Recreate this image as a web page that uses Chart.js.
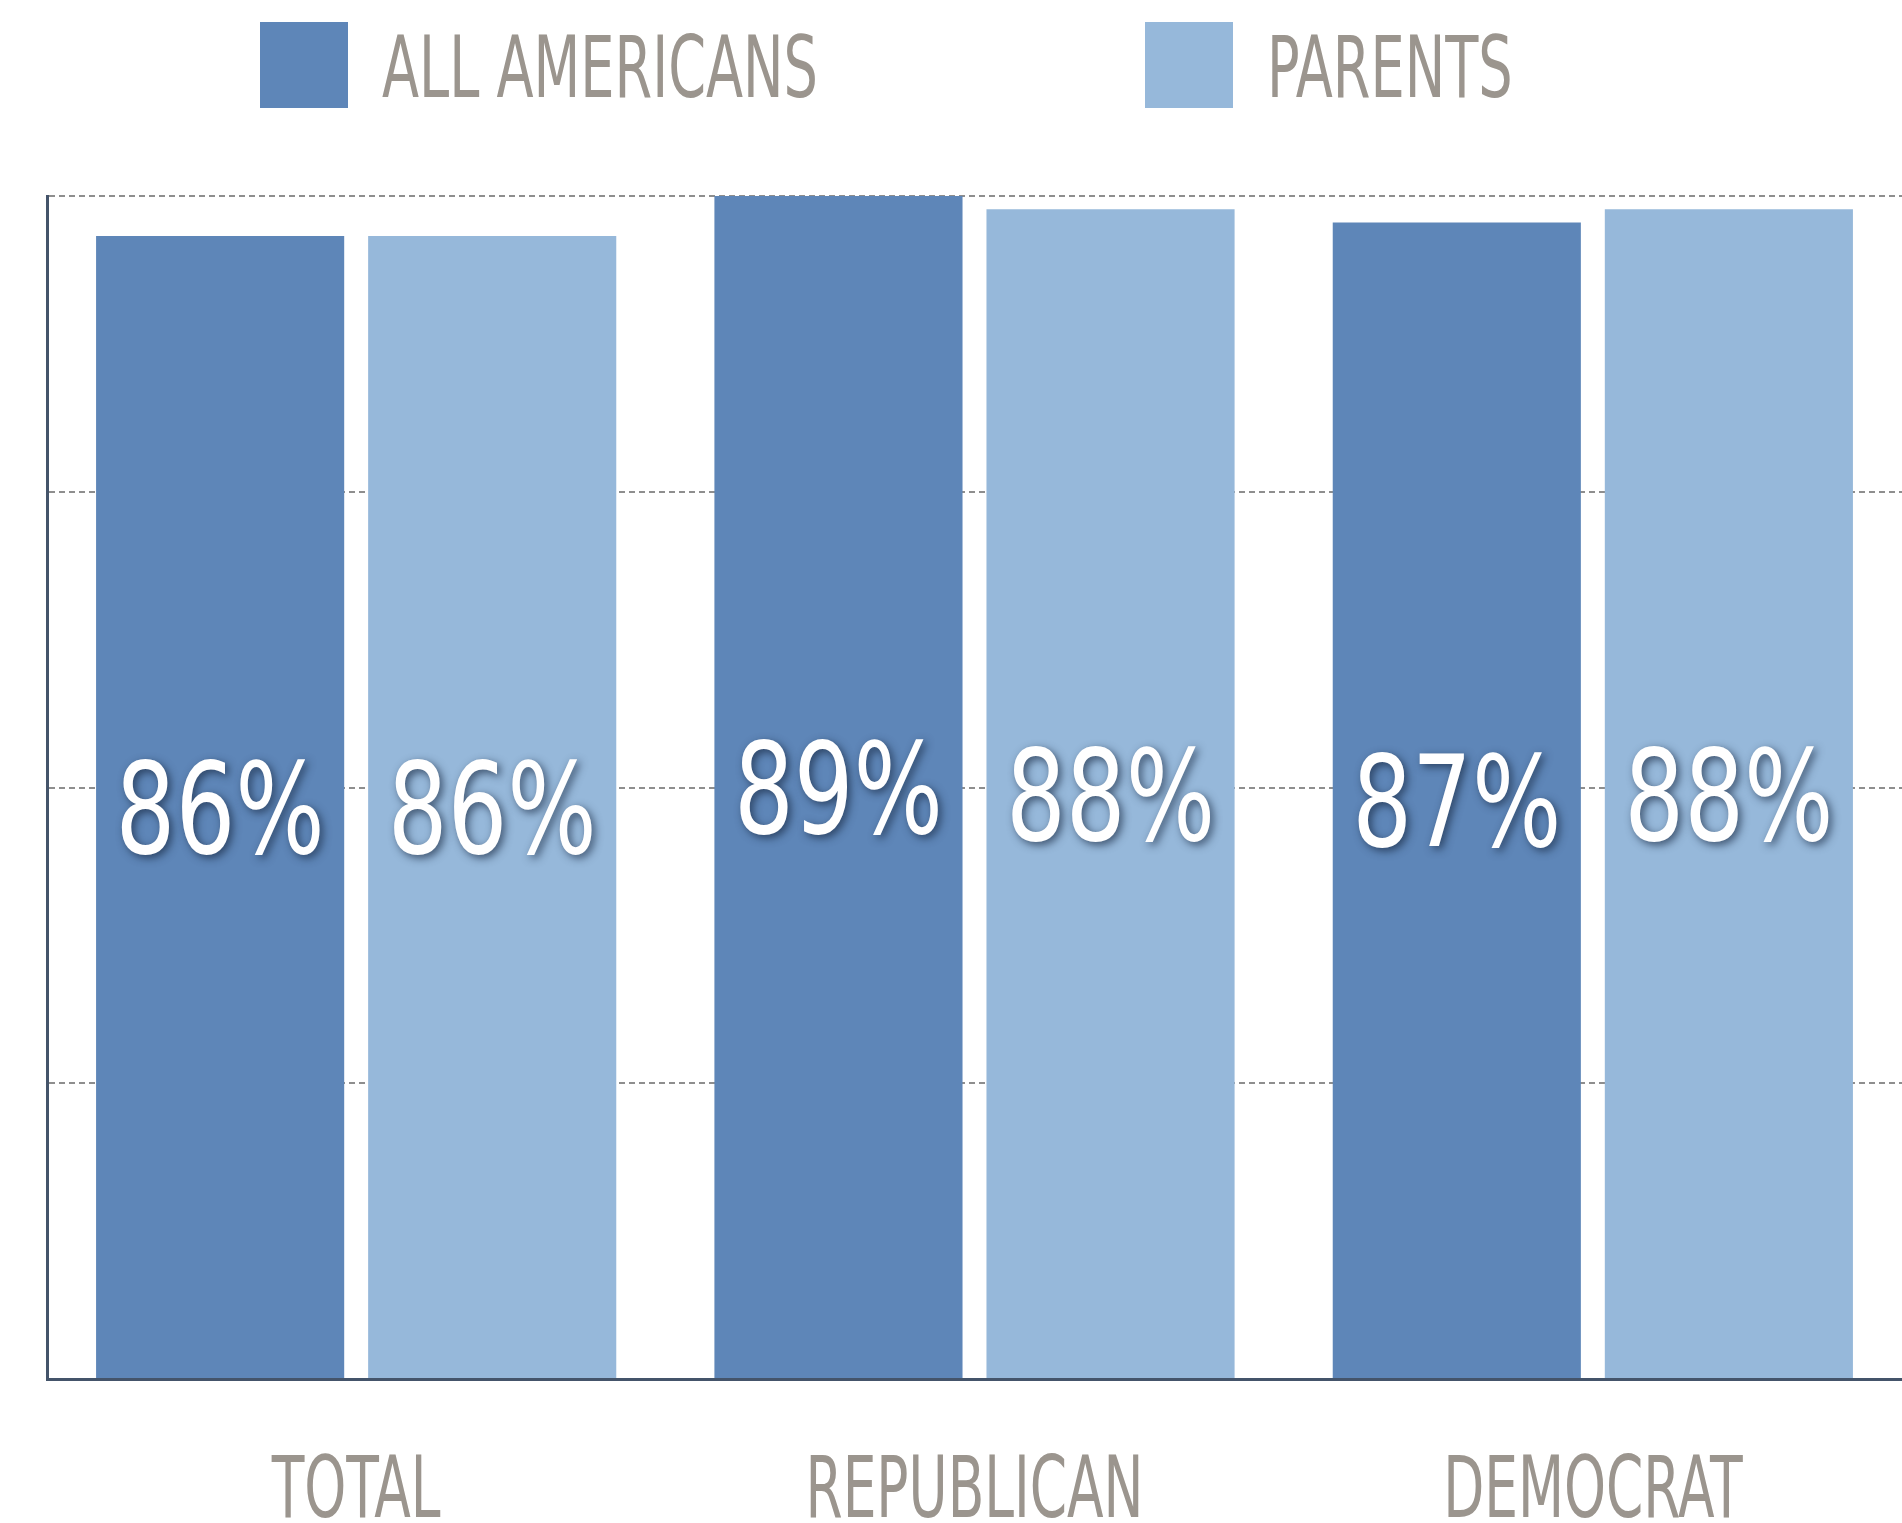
<!DOCTYPE html>
<html>
<head>
<meta charset="utf-8">
<script src="https://cdn.jsdelivr.net/npm/chart.js@4.4.1/dist/chart.umd.min.js"></script>
<style>
  body { margin: 0; background: #fff; }
  .chart-container { width: 1902px; height: 1523px; }
</style>
</head>
<body>
<div class="chart-container">
  <canvas id="chart" width="1902" height="1523"></canvas>
</div>
<script>
const categories = ['TOTAL', 'REPUBLICAN', 'DEMOCRAT'];
const seriesNames = ['ALL AMERICANS', 'PARENTS'];
const allAmericans = [86, 89, 87];
const parents = [86, 88, 88];
const yMax = 89;
const yStep = 22.25;

const FONT = '"Liberation Sans Narrow", "DejaVu Sans Condensed", "Liberation Sans", sans-serif';
const GREY_TEXT = '#9b958e';

// draw text squeezed horizontally (the original uses a condensed face)
function squeezedText(ctx, text, x, y, size, sx, align) {
  ctx.save();
  ctx.font = size + 'px ' + FONT;
  ctx.textBaseline = 'alphabetic';
  const w = ctx.measureText(text).width * sx;
  let left = x;
  if (align === 'center') left = x - w / 2;
  ctx.translate(left, y);
  ctx.scale(sx, 1);
  ctx.textAlign = 'left';
  ctx.fillText(text, 0, 0);
  ctx.restore();
}

const decorPlugin = {
  id: 'decor',
  afterDatasetsDraw(chart) {
    const ctx = chart.ctx;
    // value labels in the middle of each bar
    chart.data.datasets.forEach((ds, i) => {
      const meta = chart.getDatasetMeta(i);
      meta.data.forEach((bar, j) => {
        const cy = (bar.y + bar.base) / 2;
        ctx.save();
        ctx.fillStyle = '#ffffff';
        ctx.shadowColor = 'rgba(20, 35, 60, 0.7)';
        ctx.shadowBlur = 9;
        ctx.shadowOffsetX = 3;
        ctx.shadowOffsetY = 3;
        squeezedText(ctx, ds.data[j] + '%', bar.x, cy + 46, 126, 0.83, 'center');
        ctx.restore();
      });
    });
  },
  afterDraw(chart) {
    const ctx = chart.ctx;
    const xScale = chart.scales.x;
    ctx.fillStyle = GREY_TEXT;
    categories.forEach((c, i) => {
      squeezedText(ctx, c, xScale.getPixelForValue(i), 1517, 86, 0.69, 'center');
    });
    // legend
    const legendX = [260, 1145];
    chart.data.datasets.forEach((ds, i) => {
      ctx.fillStyle = ds.backgroundColor;
      ctx.fillRect(legendX[i], 22, 88, 86);
      ctx.fillStyle = GREY_TEXT;
      squeezedText(ctx, ds.label, legendX[i] + 122, 97, 86, 0.70, 'left');
    });
  }
};

const ctx = document.getElementById('chart').getContext('2d');
new Chart(ctx, {
  type: 'bar',
  data: {
    labels: categories,
    datasets: [{
      label: seriesNames[0],
      data: allAmericans,
      backgroundColor: '#5e86b8',
      categoryPercentage: 0.88,
      barPercentage: 0.912
    }, {
      label: seriesNames[1],
      data: parents,
      backgroundColor: '#96b8da',
      categoryPercentage: 0.88,
      barPercentage: 0.912
    }]
  },
  options: {
    responsive: false,
    animation: false,
    layout: { padding: { left: 47, right: 0, top: 196, bottom: 144 } },
    plugins: { legend: { display: false }, tooltip: { enabled: false } },
    scales: {
      x: {
        grid: { display: false, drawTicks: false },
        ticks: { display: false },
        border: { color: '#44546a', width: 3 }
      },
      y: {
        min: 0,
        max: yMax,
        ticks: { display: false, stepSize: yStep },
        grid: { color: '#8e8e8e', lineWidth: 2, drawTicks: false },
        border: { color: '#44546a', width: 3, dash: [6, 4] }
      }
    }
  },
  plugins: [decorPlugin]
});
</script>
</body>
</html>
